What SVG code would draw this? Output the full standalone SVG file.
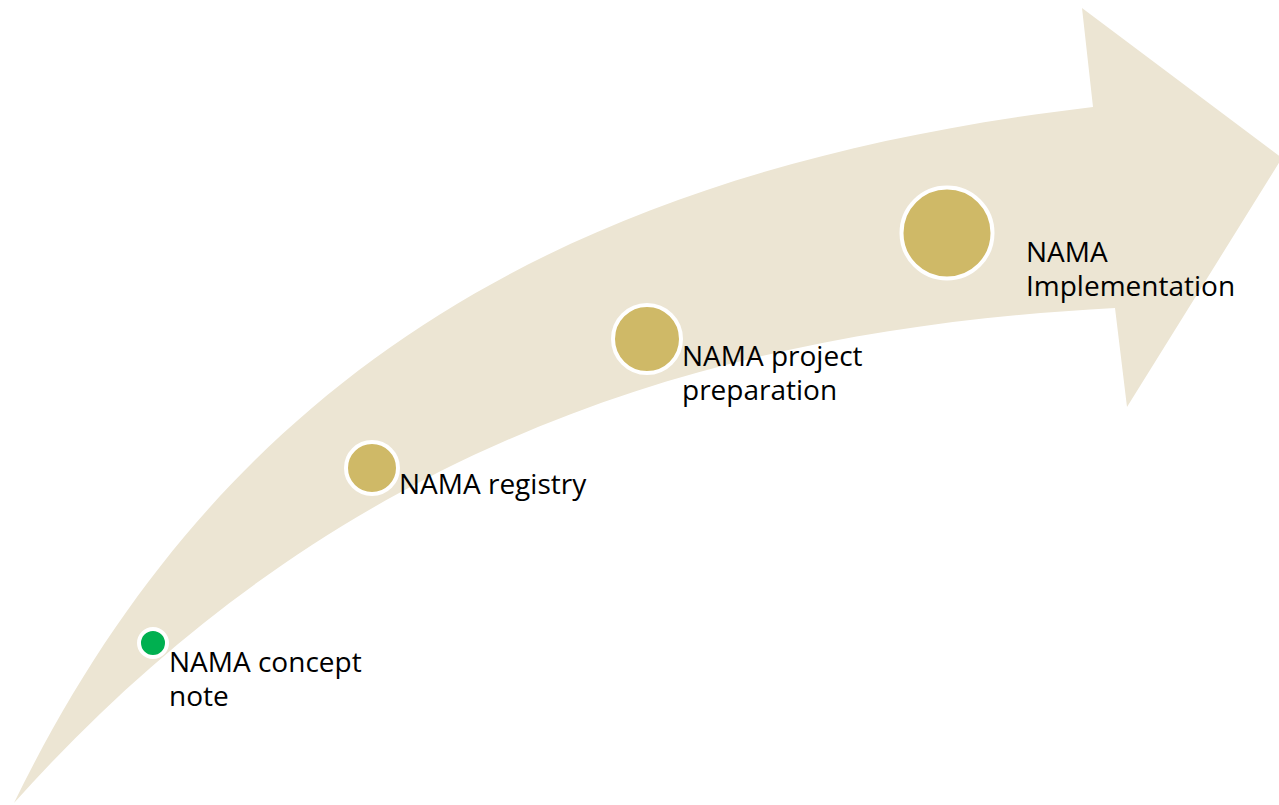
<svg xmlns="http://www.w3.org/2000/svg" width="1279" height="805" viewBox="0 0 1279 805">
<style>
.lbl{font-family:"Open Sans","Liberation Sans",sans-serif;font-size:28px;fill:#000}
.step{fill:#CFB967;stroke:#fff;stroke-width:4}
</style>
<rect width="1279" height="805" fill="#fff"/>
<g id="connectors">
<path id="arrow" d="M14,803 C220,380 560,170 1093,107 L1082,8 L1282,158 L1127,407 L1115,308 C700,330 330,450 14,803 Z" fill="#ECE5D3"/>
</g>
<g id="node-concept">
<circle cx="153" cy="643" r="14" fill="#00B050" stroke="#fff" stroke-width="4"/>
<text class="lbl" x="169" y="672">NAMA concept</text>
<text class="lbl" x="169" y="706">note</text>
</g>
<g id="node-registry">
<circle class="step" cx="372" cy="468" r="26"/>
<text class="lbl" x="399" y="494">NAMA registry</text>
</g>
<g id="node-preparation">
<circle class="step" cx="647" cy="339" r="34"/>
<text class="lbl" x="682" y="366">NAMA project</text>
<text class="lbl" x="682" y="400">preparation</text>
</g>
<g id="node-implementation">
<circle class="step" cx="947" cy="233" r="45.5" stroke-width="5"/>
<text class="lbl" x="1026" y="262">NAMA</text>
<text class="lbl" x="1026" y="296">Implementation</text>
</g>
</svg>
